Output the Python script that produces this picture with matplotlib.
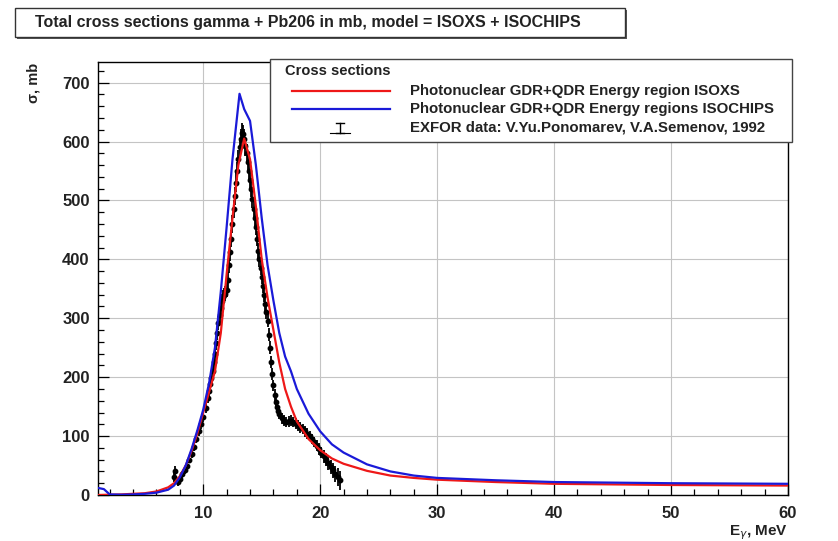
import matplotlib
matplotlib.use("Agg")
import matplotlib.pyplot as plt
from matplotlib.patches import Rectangle
from matplotlib.lines import Line2D
from matplotlib.ticker import MultipleLocator

plt.rcParams['font.family'] = ['Liberation Sans', 'DejaVu Sans']

# --- model curves -----------------------------------------------------------
e_isoxs = [1, 2, 3, 4, 5, 6, 7, 7.5, 8, 8.5, 9, 9.5, 10, 10.5, 11, 11.5, 12,
           12.5, 13, 13.5, 14, 14.5, 15, 15.5, 16, 16.5, 17, 17.5, 18, 19, 20,
           21, 22, 24, 26, 28, 30, 35, 40, 45, 50, 55, 60]
xs_isoxs = [0, 0.5, 1, 2, 3, 6, 13, 20, 32, 50, 75, 105, 140, 175, 210, 275,
            375, 470, 560, 605, 570, 490, 400, 335, 280, 225, 180, 150, 125,
            95, 76, 62, 53, 41, 33, 29, 26, 22, 19, 18, 17, 16.5, 16]

e_isochips = [1, 1.5, 2, 3, 4, 5, 6, 7, 7.5, 8, 8.5, 9, 9.5, 10, 10.5, 11,
              11.5, 12, 12.5, 13.1, 13.5, 14, 14.5, 15, 15.5, 16, 16.5, 17,
              17.5, 18, 19, 20, 21, 22, 24, 26, 28, 30, 35, 40, 45, 50, 55, 60]
xs_isochips = [12, 10, 1, 0.5, 1, 2, 4, 9, 16, 30, 50, 78, 110, 145, 190, 250,
               345, 455, 570, 681, 655, 635, 560, 470, 390, 330, 275, 235, 210,
               180, 138, 108, 86, 72, 52, 40, 33, 29, 25, 22, 21, 20, 19.5, 19]

# --- EXFOR measurement (Ponomarev, Semenov 1992) ----------------------------
e_exp = [7.5, 7.6, 7.7, 7.8, 8.0, 8.2, 8.4, 8.6, 8.8, 9.0, 9.2, 9.4, 9.6, 9.8,
         10.0, 10.2, 10.4,
         10.5, 10.6, 10.7, 10.8, 10.9, 11.0, 11.1, 11.2, 11.3, 11.4, 11.5,
         11.6, 11.7, 11.8, 11.9,
         12.0, 12.1, 12.2, 12.3, 12.4, 12.5, 12.6, 12.7, 12.8, 12.9, 13.0,
         13.1, 13.2, 13.3, 13.4, 13.5, 13.6, 13.7, 13.8, 13.9,
         14.0, 14.1, 14.2, 14.3, 14.4, 14.5, 14.6, 14.7, 14.8, 14.9, 15.0,
         15.1, 15.2, 15.3, 15.4, 15.5, 15.6, 15.7, 15.8, 15.9, 16.0, 16.1,
         16.2, 16.3, 16.4, 16.5,
         16.7, 16.9, 17.1, 17.3, 17.5, 17.7, 17.9, 18.1, 18.3, 18.5, 18.7,
         18.9, 19.1, 19.3, 19.5, 19.7, 19.9, 20.1, 20.3, 20.5, 20.7, 20.9,
         21.1, 21.3, 21.5, 21.7]
xs_exp = [30, 40, 25, 22, 28, 35, 42, 50, 60, 70, 82, 95, 108, 120,
          132, 148, 165,
          176, 188, 198, 210, 225, 240, 258, 275, 292, 305, 318,
          330, 336, 340, 342,
          348, 365, 390, 412, 435, 460, 485, 508, 530, 550, 570,
          590, 605, 615, 612, 605, 592, 580, 565, 550,
          535, 520, 502, 485, 470, 455, 435, 415, 400, 385, 370,
          355, 340, 325, 310, 296, 272, 250, 226, 205, 186, 170,
          158, 150, 143, 138,
          130, 126, 124, 125, 126, 124, 121, 118, 115, 112, 108,
          104, 100, 95, 90, 84, 78, 72, 66, 60, 54, 48,
          42, 36, 30, 25]
err_exp = [8, 10, 6, 6, 6, 6, 6, 6, 6, 7, 7, 7, 8, 8,
           8, 9, 9,
           10, 10, 10, 11, 11, 11, 12, 12, 12, 12, 12,
           12, 12, 12, 12,
           12, 13, 13, 14, 14, 15, 15, 15, 16, 16, 16,
           16, 16, 16, 16, 16, 16, 15, 15, 15,
           15, 14, 14, 14, 14, 13, 13, 13, 13, 12, 12,
           12, 12, 12, 11, 11, 11, 11, 10, 10, 10, 10,
           10, 9, 9, 9,
           9, 9, 9, 9, 9, 9, 9, 9, 9, 9, 9,
           9, 9, 9, 9, 10, 10, 10, 11, 11, 12, 12,
           13, 14, 15, 16]

W, H = 838, 541
fig = plt.figure(figsize=(W / 100, H / 100), dpi=100)
fig.patch.set_facecolor('white')

L, R, T, B = 98, 788, 62, 495
ax = fig.add_axes([L / W, 1 - B / H, (R - L) / W, (B - T) / H])

ax.grid(True, color='#c4c4c4', lw=0.8, zorder=0)
ax.set_axisbelow(True)

ax.errorbar(e_exp, xs_exp, yerr=err_exp, fmt='o', ms=3.2, color='black',
            ecolor='black', elinewidth=1.3, capsize=0, zorder=3)
ax.plot(e_isoxs, xs_isoxs, color='#ee1818', lw=1.6, zorder=4)
ax.plot(e_isochips, xs_isochips, color='#1a1ad8', lw=1.6, zorder=4)

ax.set_xlim(1, 60)
ax.set_ylim(0, 735)
ax.xaxis.set_major_locator(MultipleLocator(10))
ax.xaxis.set_minor_locator(MultipleLocator(2))
ax.yaxis.set_major_locator(MultipleLocator(100))
ax.yaxis.set_minor_locator(MultipleLocator(20))
ax.tick_params(which='both', direction='in', top=False, right=False,
               labelsize=12, width=0.9)
ax.tick_params(which='major', length=8)
ax.tick_params(which='minor', length=4)
ax.tick_params(axis='x', which='major', pad=8)
ax.tick_params(axis='y', which='major', pad=6)
for lab in ax.get_xticklabels() + ax.get_yticklabels():
    lab.set_fontweight('bold')
    lab.set_color('#222222')
for sp in ax.spines.values():
    sp.set_linewidth(1.0)

# axis titles
fig.text(33 / W, 1 - 63 / H, 'σ, mb', rotation=90, ha='center', va='top',
         fontsize=10.5, fontweight='bold', color='#222222')
fig.text(788 / W, 1 - 533 / H, 'E$_{\\gamma}$, MeV', ha='right',
         va='center', fontsize=11, fontweight='bold', color='#222222')

# title box with shadow
tx0, ty0, tx1, ty1 = 15, 8, 625, 37
fig.add_artist(Rectangle(((tx0 + 2) / W, 1 - (ty1 + 2) / H), (tx1 - tx0) / W,
                         (ty1 - ty0) / H, transform=fig.transFigure,
                         facecolor='#555555', edgecolor='none', zorder=1))
fig.add_artist(Rectangle((tx0 / W, 1 - ty1 / H), (tx1 - tx0) / W,
                         (ty1 - ty0) / H, transform=fig.transFigure,
                         facecolor='white', edgecolor='#333333', lw=1.0,
                         zorder=2))
fig.text(35 / W, 1 - 22.5 / H,
         'Total cross sections gamma + Pb206 in mb, model = ISOXS + ISOCHIPS',
         ha='left', va='center', fontsize=11.5, fontweight='bold',
         color='#222222', zorder=3)

# legend box
lx0, ly0, lx1, ly1 = 270, 59, 792, 142
fig.add_artist(Rectangle((lx0 / W, 1 - ly1 / H), (lx1 - lx0) / W,
                         (ly1 - ly0) / H, transform=fig.transFigure,
                         facecolor='white', edgecolor='#444444', lw=1.0,
                         zorder=5))
fig.text(285 / W, 1 - 71 / H, 'Cross sections', ha='left', va='center',
         fontsize=10.5, fontweight='bold', color='#222222', zorder=6)
entries = ['Photonuclear GDR+QDR Energy region ISOXS',
           'Photonuclear GDR+QDR Energy regions ISOCHIPS',
           'EXFOR data: V.Yu.Ponomarev, V.A.Semenov, 1992']
rows = [91, 109, 128]
fig.add_artist(Line2D([292 / W, 390 / W], [1 - rows[0] / H] * 2,
                      transform=fig.transFigure, color='#ee1818', lw=1.6,
                      zorder=6))
fig.add_artist(Line2D([292 / W, 390 / W], [1 - rows[1] / H] * 2,
                      transform=fig.transFigure, color='#1a1ad8', lw=1.6,
                      zorder=6))
cx, cy = 340, rows[2]
fig.add_artist(Line2D([cx / W, cx / W], [1 - (cy - 5) / H, 1 - (cy + 5) / H],
                      transform=fig.transFigure, color='black', lw=1.0,
                      zorder=6))
for dy in (-5, 5):
    fig.add_artist(Line2D([(cx - 4) / W, (cx + 4) / W],
                          [1 - (cy + dy) / H] * 2,
                          transform=fig.transFigure, color='black', lw=1.0,
                          zorder=6))
fig.add_artist(Line2D([(cx - 10) / W, (cx + 10) / W], [1 - (cy + 5) / H] * 2,
                      transform=fig.transFigure, color='black', lw=0.8,
                      zorder=6))
for txt, yy in zip(entries, rows):
    fig.text(410 / W, 1 - yy / H, txt, ha='left', va='center', fontsize=10.8,
             fontweight='bold', color='#222222', zorder=6)

fig.savefig('out.png', dpi=100, facecolor='white')
